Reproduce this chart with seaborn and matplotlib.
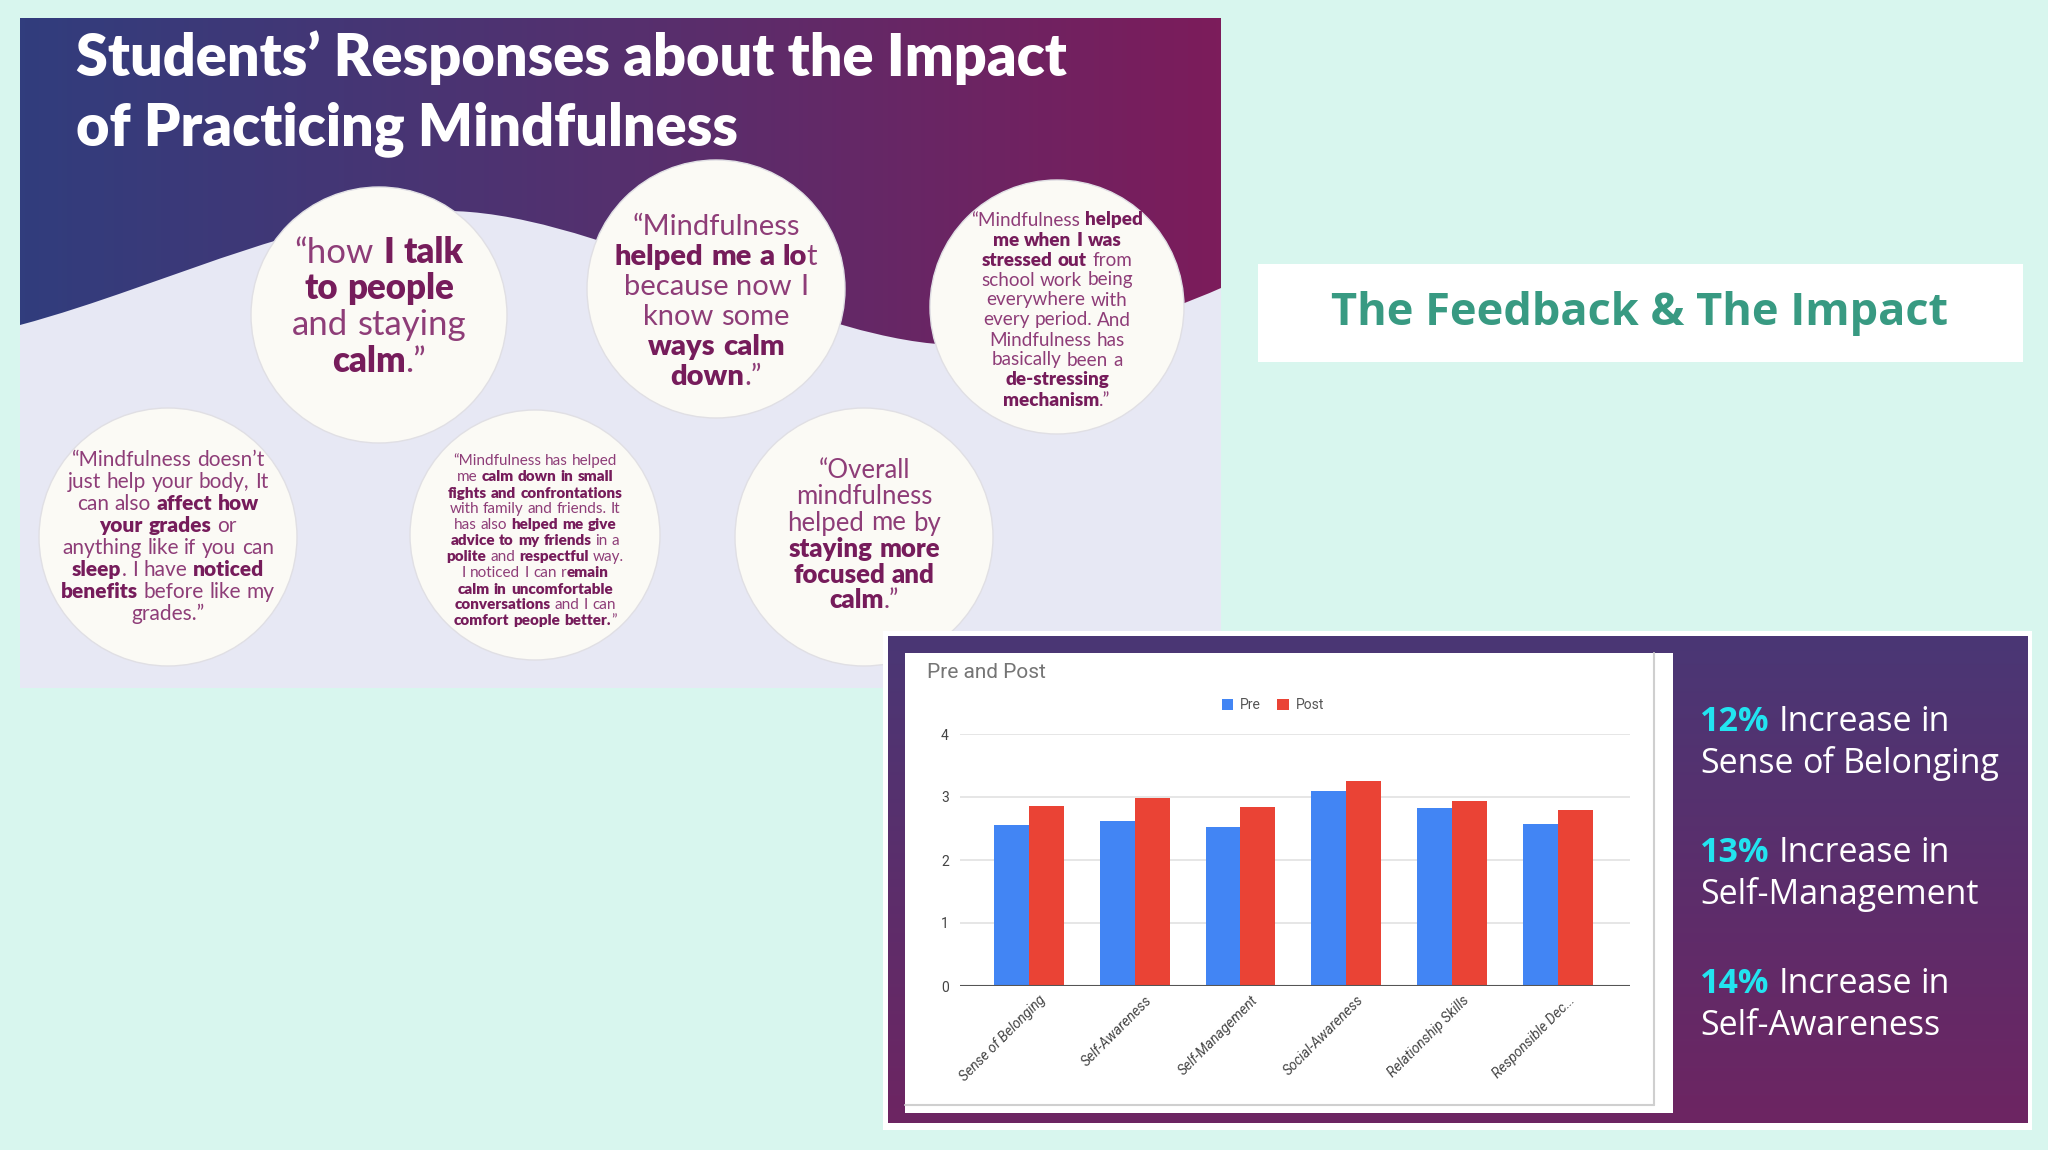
import numpy as np
import pandas as pd
import matplotlib.pyplot as plt
import seaborn as sns
from matplotlib.path import Path
from matplotlib.patches import PathPatch, Rectangle, Circle
from matplotlib.colors import LinearSegmentedColormap
from matplotlib.offsetbox import TextArea, HPacker, DrawingArea, AnnotationBbox
import matplotlib.transforms as mtransforms

# chart data
categories = ['Sense of Belonging', 'Self-Awareness', 'Self-Management',
              'Social-Awareness', 'Relationship Skills', 'Responsible Dec...']
pre_scores = [2.55, 2.62, 2.53, 3.09, 2.83, 2.57]
post_scores = [2.86, 2.99, 2.84, 3.26, 2.94, 2.79]
phases = ['Pre', 'Post']
y_ticks = [0, 1, 2, 3, 4]

increase_pct = ['12%', '13%', '14%']
increase_area = ['Sense of Belonging', 'Self-Management', 'Self-Awareness']

# quotes, **bold** parts
quote_talk = ['“how **I talk**', '**to people**', 'and staying', '**calm**.”']
quote_lot = ['“Mindfulness', '**helped me a lo**t', 'because now I', 'know some',
             '**ways calm**', '**down**.”']
quote_stress = ['“Mindfulness **helped**', '**me when I was**', '**stressed out** from',
                'school work being', 'everywhere with', 'every period. And',
                'Mindfulness has', 'basically been a', '**de-stressing**',
                '**mechanism**.”']
quote_grades = ['“Mindfulness doesn’t', 'just help your body, It', 'can also **affect how**',
                '**your grades** or', 'anything like if you can',
                '**sleep**. I have **noticed**', '**benefits** before like my', 'grades.”']
quote_fights = ['“Mindfulness has helped', 'me **calm down in small**',
                '**fights and confrontations**', 'with family and friends. It',
                'has also **helped me give**', '**advice to my friends** in a',
                '**polite** and **respectful** way.', 'I noticed I can r**emain**',
                '**calm in uncomfortable**', '**conversations** and I can',
                '**comfort people better.**”']
quote_focus = ['“Overall', 'mindfulness', 'helped me by', '**staying more**',
               '**focused and**', '**calm**.”']

W, H = 2048, 1150
MINT = '#d8f6ee'
QFONT = 'Lato'

sns.set_theme(style='white')
plt.rcParams['font.family'] = ['Lato', 'DejaVu Sans']

fig = plt.figure(figsize=(W / 100, H / 100), dpi=100, facecolor=MINT)
bg = fig.add_axes([0, 0, 1, 1])
bg.set_facecolor(MINT)
bg.axis('off')


def rich_line(ax, x, y, line, size, family, colors, ha='center', zorder=6,
              boldweight='heavy', space=0.27):
    kids = []
    parts = line.split('**')
    for i, p in enumerate(parts):
        if p == '':
            continue
        bold = i % 2 == 1
        for j, w in enumerate(p.split(' ')):
            if j > 0 and kids:
                kids.append(DrawingArea(size * space, 1))
            if w == '':
                continue
            kids.append(TextArea(w, textprops=dict(
                fontsize=size, family=family,
                fontweight=boldweight if bold else 'normal',
                color=colors[1] if bold else colors[0])))
    box = HPacker(children=kids, pad=0, sep=0, align='baseline')
    ab = AnnotationBbox(box, (x, y), xycoords='data', frameon=False, pad=0,
                        box_alignment=(0.5 if ha == 'center' else 0.0, 0.5))
    ab.set_zorder(zorder)
    ax.add_artist(ab)


# left slide: gradient + wave
left_cmap = LinearSegmentedColormap.from_list('l', ['#313d7d', '#55306e', '#7c1c5b'])
bg.imshow(np.linspace(0, 1, 256)[None, :], cmap=left_cmap, aspect='auto',
          extent=(20, 1221, 688, 18), zorder=1)
verts = [(20, 325), (170, 285), (330, 200), (470, 212),
         (620, 224), (820, 345), (960, 345),
         (1070, 345), (1160, 315), (1221, 288),
         (1221, 688), (20, 688), (20, 325)]
codes = [Path.MOVETO] + [Path.CURVE4] * 9 + [Path.LINETO, Path.LINETO, Path.CLOSEPOLY]
bg.add_patch(PathPatch(Path(verts, codes), facecolor='#e7e8f4', edgecolor='none', zorder=2))

bg.text(76, 76, 'Students’ Responses about the Impact', color='white', fontsize=41.5,
        fontweight='heavy', family=QFONT, va='baseline', zorder=6)
bg.text(76, 145, 'of Practicing Mindfulness', color='white', fontsize=41.5,
        fontweight='heavy', family=QFONT, va='baseline', zorder=6)

qcolors = ('#8e3d78', '#761c5b')
bubbles = [
    (379, 315, 128, quote_talk, 25, 36.5, 307),
    (716, 289, 129, quote_lot, 21, 30, 302),
    (1057, 307, 127, quote_stress, 13.6, 20, 310),
    (168, 537, 129, quote_grades, 15, 22, 537),
    (535, 535, 125, quote_fights, 11, 16, 541),
    (864, 537, 129, quote_focus, 18.5, 26, 536),
]
for cx, cy, r, lines, size, step, ty in bubbles:
    bg.add_patch(Circle((cx, cy), r, facecolor='#fbfaf5', edgecolor='#e0dfe4',
                        lw=1, zorder=4))
    n = len(lines)
    for i, line in enumerate(lines):
        rich_line(bg, cx, ty + (i - (n - 1) / 2) * step, line, size, QFONT, qcolors)

# feedback header
bg.add_patch(Rectangle((1258, 264), 765, 98, facecolor='white', edgecolor='none', zorder=1))
bg.text(1640, 313, 'The Feedback & The Impact', color='#389a82', fontsize=32.5,
        fontweight='bold', family='Open Sans', ha='center', va='center', zorder=3)

# chart panel
bg.add_patch(Rectangle((883, 631), 1149, 499, facecolor='white', edgecolor='none', zorder=7))
right_cmap = LinearSegmentedColormap.from_list('r', ['#4a3775', '#6d2562'])
bg.imshow(np.linspace(0, 1, 256)[:, None], cmap=right_cmap, aspect='auto',
          extent=(888, 2028, 1123, 636), zorder=8)
bg.add_patch(Rectangle((905, 653), 768, 460, facecolor='white', edgecolor='none', zorder=9))
bg.plot([1654, 1654], [653, 1105], color='#cfcfcf', lw=1.5, zorder=10)
bg.plot([905, 1654], [1105, 1105], color='#cfcfcf', lw=1.5, zorder=10)
bg.text(927, 673, 'Pre and Post', color='#757575', fontsize=15, family='Roboto',
        va='center', zorder=10)

for k, (pct, area) in enumerate(zip(increase_pct, increase_area)):
    y0 = 722 + k * 131
    rich_line(bg, 1700, y0, f'**{pct}** Increase in', 24.5, 'Open Sans',
              ('white', '#22e4f0'), ha='left', zorder=11, boldweight='bold', space=0.26)
    rich_line(bg, 1700, y0 + 42, area, 24.5, 'Open Sans', ('white', '#22e4f0'),
              ha='left', zorder=11, boldweight='bold', space=0.26)

bg.set_xlim(0, W)
bg.set_ylim(H, 0)

# bar chart
df = pd.DataFrame({
    'Category': categories * 2,
    'Phase': [phases[0]] * len(categories) + [phases[1]] * len(categories),
    'Score': pre_scores + post_scores,
})
ax = fig.add_axes([960 / W, 1 - 986 / H, 670 / W, 252 / H])
ax.set_zorder(20)
ax.set_facecolor('none')
sns.barplot(data=df, x='Category', y='Score', hue='Phase',
            palette={'Pre': '#4285f4', 'Post': '#ea4335'}, saturation=1,
            width=0.66, linewidth=0, ax=ax)
ax.set_xlim(-0.65, 5.68)
ax.set_ylim(0, 4)
ax.set_yticks(y_ticks)
ax.yaxis.grid(True, color='#e2e2e2', lw=1.2)
ax.set_axisbelow(True)
ax.axhline(0, color='#555555', lw=1.5, zorder=5)
for s in ax.spines.values():
    s.set_visible(False)
ax.set_xlabel('')
ax.set_ylabel('')
ax.tick_params(axis='y', length=0, pad=8, labelsize=10, labelcolor='#444444')
ax.tick_params(axis='x', length=0, pad=5, labelsize=10, labelcolor='#444444')
ax.set_yticklabels([str(t) for t in y_ticks], family='Roboto')
ax.set_xticks(range(len(categories)))
ax.set_xticklabels(categories, rotation=45, ha='right', rotation_mode='anchor',
                   style='italic', family='Roboto')
offset = mtransforms.ScaledTranslation(10 / 100, 0, fig.dpi_scale_trans)
for lab in ax.get_xticklabels():
    lab.set_transform(lab.get_transform() + offset)
sns.move_legend(ax, 'center', bbox_to_anchor=(0.467, 1.115), ncol=2, frameon=False,
                title=None, fontsize=10, handlelength=0.8, handleheight=0.8,
                columnspacing=1.2, handletextpad=0.5)
for t in ax.get_legend().get_texts():
    t.set_color('#555555')
    t.set_family('Roboto')

fig.savefig('out.png', dpi=100, facecolor=MINT)
